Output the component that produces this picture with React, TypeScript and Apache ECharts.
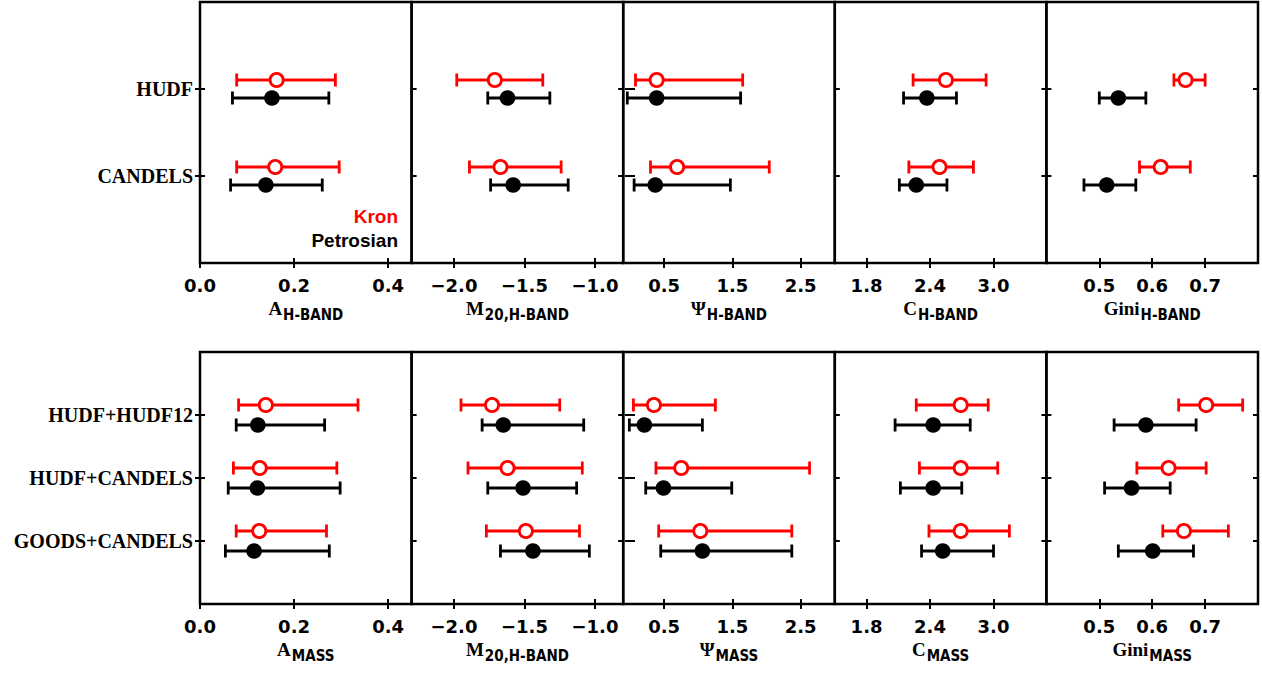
import React, { useEffect, useRef } from 'react';
import * as echarts from 'echarts';

// ---------- data ----------
const topCategories = ['HUDF', 'CANDELS'];
const bottomCategories = ['HUDF+HUDF12', 'HUDF+CANDELS', 'GOODS+CANDELS'];

// each entry: [low, value, high], one per category (top to bottom)
const aHbandKron = [[0.078, 0.163, 0.288], [0.078, 0.160, 0.296]];
const aHbandPetrosian = [[0.069, 0.153, 0.274], [0.065, 0.140, 0.260]];
const m20HbandKron = [[-1.98, -1.71, -1.37], [-1.89, -1.67, -1.24]];
const m20HbandPetrosian = [[-1.76, -1.62, -1.32], [-1.74, -1.58, -1.19]];
const psiHbandKron = [[0.08, 0.39, 1.65], [0.30, 0.69, 2.04]];
const psiHbandPetrosian = [[-0.04, 0.39, 1.62], [0.06, 0.37, 1.47]];
const cHbandKron = [[2.24, 2.55, 2.93], [2.20, 2.49, 2.81]];
const cHbandPetrosian = [[2.15, 2.37, 2.65], [2.11, 2.27, 2.56]];
const giniHbandKron = [[0.641, 0.663, 0.700], [0.576, 0.616, 0.672]];
const giniHbandPetrosian = [[0.500, 0.536, 0.588], [0.471, 0.514, 0.569]];

const aMassKron = [[0.082, 0.140, 0.336], [0.071, 0.127, 0.291], [0.077, 0.126, 0.269]];
const aMassPetrosian = [[0.077, 0.123, 0.265], [0.060, 0.122, 0.298], [0.054, 0.115, 0.275]];
const m20MassKron = [[-1.95, -1.73, -1.25], [-1.90, -1.62, -1.09], [-1.77, -1.49, -1.11]];
const m20MassPetrosian = [[-1.80, -1.65, -1.08], [-1.76, -1.51, -1.13], [-1.67, -1.44, -1.04]];
const psiMassKron = [[0.05, 0.35, 1.25], [0.38, 0.75, 2.63], [0.42, 1.03, 2.37]];
const psiMassPetrosian = [[-0.01, 0.21, 1.06], [0.23, 0.49, 1.49], [0.45, 1.06, 2.37]];
const cMassKron = [[2.27, 2.69, 2.95], [2.30, 2.69, 3.04], [2.39, 2.69, 3.15]];
const cMassPetrosian = [[2.07, 2.43, 2.78], [2.12, 2.43, 2.70], [2.32, 2.52, 3.00]];
const giniMassKron = [[0.650, 0.702, 0.771], [0.571, 0.631, 0.702], [0.620, 0.660, 0.744]];
const giniMassPetrosian = [[0.528, 0.588, 0.683], [0.510, 0.561, 0.634], [0.536, 0.601, 0.678]];

// axis ranges and tick labels
const aRange = [0, 0.45];
const aTicks = [0, 0.2, 0.4];
const m20Range = [-2.3, -0.8];
const m20Ticks = [-2.0, -1.5, -1.0];
const psiRange = [-0.1, 3.0];
const psiTicks = [0.5, 1.5, 2.5];
const cRange = [1.5, 3.5];
const cTicks = [1.8, 2.4, 3.0];
const giniRange = [0.4, 0.8];
const giniTicks = [0.5, 0.6, 0.7];

const topTitles = [
  ['A', 'H-BAND'], ['M', '20,H-BAND'], ['Ψ', 'H-BAND'], ['C', 'H-BAND'], ['Gini', 'H-BAND'],
];
const bottomTitles = [
  ['A', 'MASS'], ['M', '20,H-BAND'], ['Ψ', 'MASS'], ['C', 'MASS'], ['Gini', 'MASS'],
];

const legendKron = 'Kron';
const legendPetrosian = 'Petrosian';

// ---------- layout ----------
const colLeft = [200, 411.6, 623.2, 834.8, 1046.4];
const colWidth = 211.6;
const rowsLayout = [
  { top: 2, height: 261 },
  { top: 352, height: 252 },
];
const RED = '#ff0000';
const BLACK = '#000000';
const LABEL_FONT = "'Liberation Serif', serif";
const TICK_FONT = "'DejaVu Sans', sans-serif";
const SUB_FONT = "'Liberation Sans Narrow', 'DejaVu Sans Condensed', 'Liberation Sans', sans-serif";

const fmtTick = (v: number) => {
  const s = Math.abs(v).toFixed(1);
  return v < 0 ? '\u2212' + s : s;
};

export default function App() {
  const ref = useRef<HTMLDivElement>(null);

  useEffect(() => {
    if (!ref.current) return;
    const chart = echarts.init(ref.current, null, { renderer: 'svg' });

    const ranges = [aRange, m20Range, psiRange, cRange, giniRange];
    const ticks = [aTicks, m20Ticks, psiTicks, cTicks, giniTicks];
    const rowsData = [
      {
        cats: topCategories,
        titles: topTitles,
        kron: [aHbandKron, m20HbandKron, psiHbandKron, cHbandKron, giniHbandKron],
        petro: [aHbandPetrosian, m20HbandPetrosian, psiHbandPetrosian, cHbandPetrosian, giniHbandPetrosian],
        offset: 9,
      },
      {
        cats: bottomCategories,
        titles: bottomTitles,
        kron: [aMassKron, m20MassKron, psiMassKron, cMassKron, giniMassKron],
        petro: [aMassPetrosian, m20MassPetrosian, psiMassPetrosian, cMassPetrosian, giniMassPetrosian],
        offset: 10,
      },
    ];

    const grid: any[] = [];
    const xAxis: any[] = [];
    const yAxis: any[] = [];
    const series: any[] = [];

    const makeRender = (color: string, open: boolean, dy: number) => (params: any, api: any) => {
      const yv = api.value(3);
      const lo = api.coord([api.value(0), yv]);
      const c = api.coord([api.value(1), yv]);
      const hi = api.coord([api.value(2), yv]);
      const y = c[1] + dy;
      const st = { stroke: color, lineWidth: 2.8 };
      return {
        type: 'group',
        children: [
          { type: 'line', shape: { x1: lo[0], y1: y, x2: hi[0], y2: y }, style: st },
          { type: 'line', shape: { x1: lo[0], y1: y - 6.5, x2: lo[0], y2: y + 6.5 }, style: st },
          { type: 'line', shape: { x1: hi[0], y1: y - 6.5, x2: hi[0], y2: y + 6.5 }, style: st },
          open
            ? { type: 'circle', shape: { cx: c[0], cy: y, r: 6.6 }, style: { fill: '#fff', stroke: color, lineWidth: 2.8 } }
            : { type: 'circle', shape: { cx: c[0], cy: y, r: 7.8 }, style: { fill: color } },
        ],
      };
    };

    rowsData.forEach((row, r) => {
      const n = row.cats.length;
      const catVals = row.cats.map((_, i) => n - i);
      for (let col = 0; col < 5; col++) {
        const gi = grid.length;
        grid.push({
          left: colLeft[col],
          width: colWidth,
          top: rowsLayout[r].top,
          height: rowsLayout[r].height,
          show: true,
          borderColor: BLACK,
          borderWidth: 2.5,
          backgroundColor: 'transparent',
        });
        const [mn, mx] = ranges[col];
        const [tMain, tSub] = row.titles[col];
        // bottom x axis with labels and title
        xAxis.push({
          type: 'value',
          gridIndex: gi,
          min: mn,
          max: mx,
          position: 'bottom',
          axisLine: { show: false },
          splitLine: { show: false },
          axisTick: { show: true, inside: true, length: 5, customValues: ticks[col], lineStyle: { color: BLACK, width: 2 } },
          axisLabel: {
            show: true,
            customValues: ticks[col],
            formatter: fmtTick,
            margin: 13,
            color: BLACK,
            fontFamily: TICK_FONT,
            fontSize: 18,
            fontWeight: 'bold',
          },
          name: `{m|${tMain}}{s|${tSub}}`,
          nameLocation: 'middle',
          nameGap: 34,
          nameTextStyle: {
            rich: {
              m: { fontFamily: LABEL_FONT, fontWeight: 'bold', fontSize: 19, color: BLACK, lineHeight: 20 },
              s: { fontFamily: SUB_FONT, fontWeight: 'bold', fontSize: 15, color: BLACK, lineHeight: 15, padding: [13, 0, 0, 1] },
            },
          },
        });
        // top x axis (ticks only)
        xAxis.push({
          type: 'value',
          gridIndex: gi,
          min: mn,
          max: mx,
          position: 'top',
          axisLine: { show: false },
          splitLine: { show: false },
          axisTick: { show: true, inside: true, length: 5, customValues: ticks[col], lineStyle: { color: BLACK, width: 2 } },
          axisLabel: { show: false },
        });
        const xIdx = xAxis.length - 2;
        // left y axis
        yAxis.push({
          type: 'value',
          gridIndex: gi,
          min: 0,
          max: n + 1,
          position: 'left',
          axisLine: { show: false },
          splitLine: { show: false },
          axisTick: { show: true, inside: true, length: 5, customValues: catVals, lineStyle: { color: BLACK, width: 2 } },
          axisLabel: {
            show: col === 0,
            customValues: catVals,
            formatter: (v: number) => row.cats[n - Math.round(v)] ?? '',
            margin: 7,
            color: BLACK,
            fontFamily: LABEL_FONT,
            fontWeight: 'bold',
            fontSize: 20,
          },
        });
        const yIdx = yAxis.length - 1;
        // right y axis (ticks only)
        yAxis.push({
          type: 'value',
          gridIndex: gi,
          min: 0,
          max: n + 1,
          position: 'right',
          axisLine: { show: false },
          splitLine: { show: false },
          axisTick: { show: true, inside: true, length: 5, customValues: catVals, lineStyle: { color: BLACK, width: 2 } },
          axisLabel: { show: false },
        });

        const kData = row.kron[col].map((d, i) => [d[0], d[1], d[2], n - i]);
        const pData = row.petro[col].map((d, i) => [d[0], d[1], d[2], n - i]);
        series.push({
          type: 'custom',
          name: legendPetrosian,
          xAxisIndex: xIdx,
          yAxisIndex: yIdx,
          data: pData,
          encode: { x: [0, 1, 2], y: 3 },
          renderItem: makeRender(BLACK, false, row.offset),
          clip: false,
          z: 3,
        });
        series.push({
          type: 'custom',
          name: legendKron,
          xAxisIndex: xIdx,
          yAxisIndex: yIdx,
          data: kData,
          encode: { x: [0, 1, 2], y: 3 },
          renderItem: makeRender(RED, true, -row.offset),
          clip: false,
          z: 4,
        });
      }
    });

    chart.setOption({
      animation: false,
      backgroundColor: '#ffffff',
      grid,
      xAxis,
      yAxis,
      series,
      graphic: [
        {
          type: 'text',
          x: 398,
          y: 216,
          style: {
            text: legendKron,
            fill: RED,
            font: "bold 19px 'Liberation Sans', sans-serif",
            textAlign: 'right',
            textVerticalAlign: 'middle',
          },
        },
        {
          type: 'text',
          x: 398,
          y: 240,
          style: {
            text: legendPetrosian,
            fill: BLACK,
            font: "bold 19px 'Liberation Sans', sans-serif",
            textAlign: 'right',
            textVerticalAlign: 'middle',
          },
        },
      ],
    });

    return () => chart.dispose();
  }, []);

  return (
    <div
      ref={ref}
      style={{ position: 'fixed', left: 0, top: 0, width: 1262, height: 674, background: '#fff' }}
    />
  );
}
